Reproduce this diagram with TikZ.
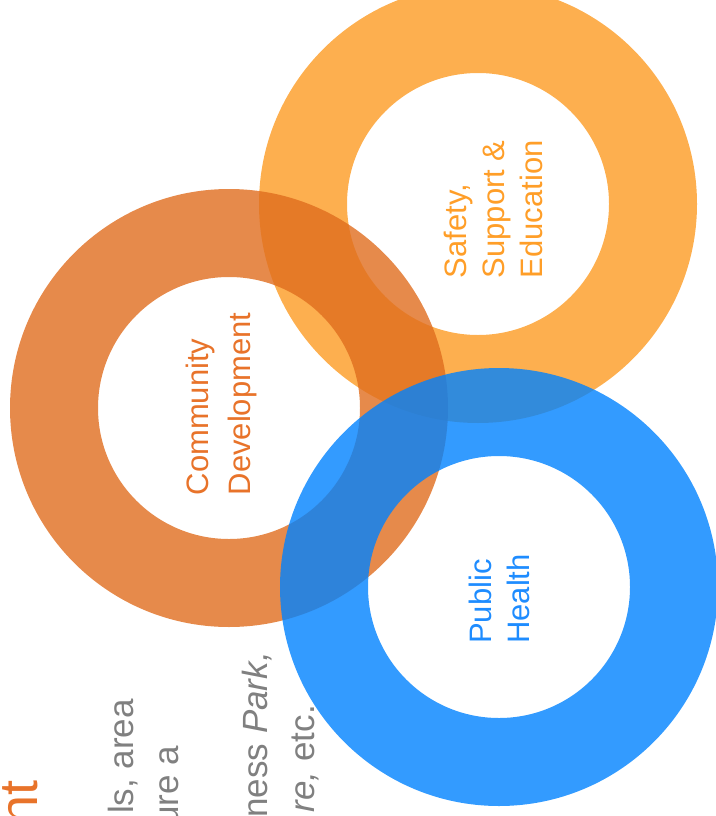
\documentclass[tikz,border=0pt]{standalone}
\usepackage{fontspec}
\setmainfont{Liberation Sans}
\usepackage{xcolor}
\definecolor{commorange}{RGB}{224,109,30}
\definecolor{safeorange}{RGB}{253,175,79}
\definecolor{healthblue}{RGB}{0,130,255}
\definecolor{commtext}{RGB}{232,115,42}
\definecolor{safetext}{RGB}{255,158,40}
\definecolor{healthtext}{RGB}{30,140,255}
\definecolor{bodygray}{RGB}{128,128,128}
\tikzset{ring/.style={even odd rule},
 ring label/.style={rotate=90,anchor=west,align=left,inner sep=0pt},
 cut line/.style={rotate=90,anchor=base east,inner sep=0pt,text=bodygray,
  font=\fontsize{35}{44}\selectfont},
 }

\begin{document}
\begin{tikzpicture}[x=1pt,y=-1pt]
        \useasboundingbox (0,0) rectangle (715,816);
        \fill[ring,safeorange] (478,204) circle[radius=219pt] (478,204) circle[radius=131pt];
        \fill[ring,commorange,fill opacity=.8] (229,408) circle[radius=219pt] (229,408) circle[radius=131pt];
        \fill[ring,healthblue,fill opacity=.8] (499,587) circle[radius=219pt] (499,587) circle[radius=131pt];
        \node[ring label,text=commtext,font=\fontsize{31}{42}\selectfont] (community) at (221,495.5) {Community\\Development};
        \node[ring label,text=safetext,font=\fontsize{31}{38}\selectfont] (safety) at (493.5,278.5) {Safety,\\Support \&\\Education};
        \node[ring label,text=healthtext,font=\fontsize{31}{38}\selectfont] (health) at (499.7,644) {Public\\Health};
        \node[cut line,text=commtext,font=\fontsize{54}{60}\selectfont] (title) at (37,780) {nt};
        \node[cut line] (lineA) at (133,699) {ls, area};
        \node[cut line] (lineB) at (178,746) {ure a};
        \node[cut line] (lineC) at (267,652) {ness \textit{Park,}};
        \node[cut line] (lineD) at (314,705) {\textit{re,} etc.};
    \end{tikzpicture}
\end{document}
